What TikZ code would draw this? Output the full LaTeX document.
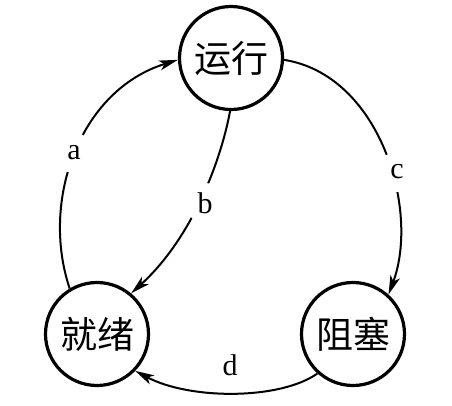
\documentclass[tikz,border=0pt]{standalone}
\usepackage{fontspec}
\setmainfont{Liberation Serif}
\newfontfamily\cjk{Noto Sans CJK SC}
\usetikzlibrary{arrows.meta}
\begin{document}
\begin{tikzpicture}[x=1pt,y=-1pt,
  state/.style={circle,draw,line width=3.2pt,minimum size=103pt,inner sep=0pt,font=\cjk\fontsize{37}{40}\selectfont},
  conn/.style={line width=2pt,-{Stealth[length=19pt,width=10pt,inset=5pt]}},
  lbl/.style={circle,fill=white,inner sep=0pt,minimum size=40pt,font=\fontsize{30}{34}\selectfont},
  lbld/.style={inner sep=0pt,font=\fontsize{30}{34}\selectfont}]
\useasboundingbox (0,0) rectangle (452,405);
\node[state] (yx) at (231,58) {运行};
\node[state] (jx) at (97,334) {就绪};
\node[state] (zs) at (353,334) {阻塞};
% a
\draw[conn] (jx.121.7) .. controls (40,200) and (80,90) .. (yx.182);
\node[lbl] (la) at (74,153) {a};
% b
\draw[conn] (yx.269) .. controls (220,165) and (190,240) .. (jx.50);
\node[lbl] (lb) at (205,203) {b};
% c
\draw[conn] (yx.-2) .. controls (380,75) and (420,210) .. (zs.48);
\node[lbl] (lc) at (397,172) {c};
% d
\draw[conn] (zs.228.5) .. controls (280,400) and (190,400) .. (jx.316);
\node[lbld] (ld) at (230,365) {d};
\end{tikzpicture}
\end{document}
